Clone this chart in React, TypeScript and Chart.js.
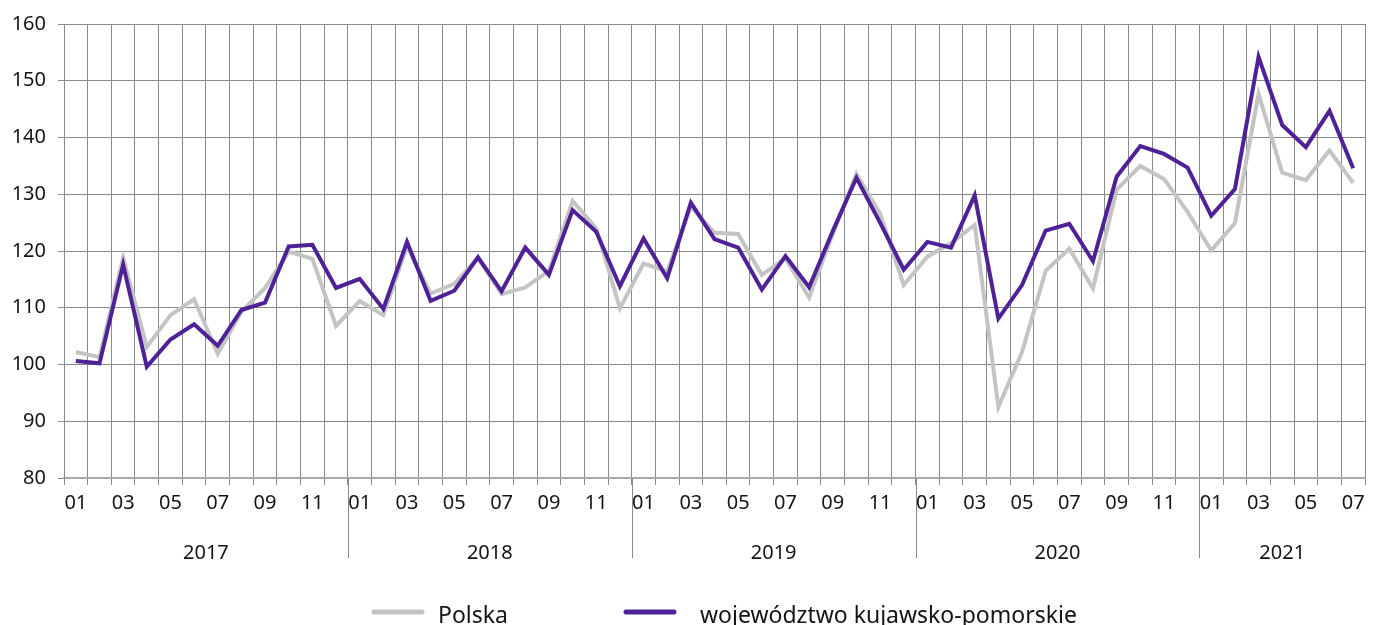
import React, { useEffect, useRef } from "react";
import { Chart, registerables } from "chart.js";

Chart.register(...registerables);

const years = ["2017", "2018", "2019", "2020", "2021"];
const monthsPerYear = [12, 12, 12, 12, 7];
const monthNames = ["01", "02", "03", "04", "05", "06", "07", "08", "09", "10", "11", "12"];

const polska = [
  102.2, 101.3, 118.8, 103.1, 108.7, 111.5, 101.9, 109.3, 113.5, 119.9, 118.6, 106.8,
  111.2, 108.7, 120.8, 112.5, 114.2, 118.8, 112.4, 113.6, 116.5, 128.8, 124.0, 109.9,
  117.8, 116.4, 127.8, 123.2, 123.0, 115.8, 118.7, 111.8, 123.0, 133.6, 126.6, 114.0,
  119.0, 121.4, 124.6, 92.5, 102.2, 116.5, 120.4, 113.4, 130.8, 135.0, 132.7, 126.9,
  120.1, 124.9, 147.7, 133.8, 132.5, 137.7, 132.0,
];

const kujawsko = [
  100.6, 100.2, 117.6, 99.6, 104.4, 107.1, 103.3, 109.6, 110.9, 120.8, 121.1, 113.5,
  115.1, 109.8, 121.6, 111.2, 113.0, 118.9, 112.9, 120.6, 115.8, 127.2, 123.4, 113.8,
  122.2, 115.2, 128.5, 122.1, 120.6, 113.2, 119.1, 113.6, 123.5, 132.9, 125.0, 116.7,
  121.6, 120.6, 129.8, 108.1, 114.0, 123.6, 124.8, 118.2, 133.1, 138.5, 137.1, 134.7,
  126.2, 130.9, 154.2, 142.2, 138.3, 144.7, 134.6,
];

const seriesNames = ["Polska", "województwo kujawsko-pomorskie"];
const seriesColors = ["#c4c4c4", "#4f2196"];

const labels: string[] = [];
years.forEach((y, yi) => {
  for (let m = 0; m < monthsPerYear[yi]; m++) labels.push(monthNames[m]);
});

const FONT = "'Noto Sans', sans-serif";
const TEXT = "#141414";
const GRID = "#8a8a8a";

const yearPlugin = {
  id: "yearPlugin",
  afterDraw(chart: any) {
    const ctx = chart.ctx;
    const xs = chart.scales.x;
    const area = chart.chartArea;
    ctx.save();
    ctx.font = `20px ${FONT}`;
    ctx.fillStyle = TEXT;
    ctx.textAlign = "center";
    ctx.textBaseline = "middle";
    let start = 0;
    years.forEach((y, yi) => {
      const end = start + monthsPerYear[yi] - 1;
      const cx = (xs.getPixelForValue(start) + xs.getPixelForValue(end)) / 2;
      ctx.fillText(y, cx, 553);
      if (yi < years.length - 1) {
        const bx = Math.round((xs.getPixelForValue(end) + xs.getPixelForValue(end + 1)) / 2) + 0.5;
        ctx.strokeStyle = GRID;
        ctx.lineWidth = 1;
        ctx.beginPath();
        ctx.moveTo(bx, area.bottom);
        ctx.lineTo(bx, 558);
        ctx.stroke();
      }
      start = end + 1;
    });

    // legend
    const items = [
      { x: 372, label: chart.data.datasets[0].label, color: chart.data.datasets[0].borderColor, gap: 14 },
      { x: 624, label: chart.data.datasets[1].label, color: chart.data.datasets[1].borderColor, gap: 24 },
    ];
    ctx.font = `23px ${FONT}`;
    items.forEach((it) => {
      ctx.strokeStyle = it.color;
      ctx.lineWidth = 5;
      ctx.lineCap = "round";
      ctx.beginPath();
      ctx.moveTo(it.x + 2, 612);
      ctx.lineTo(it.x + 50, 612);
      ctx.stroke();
      ctx.textAlign = "left";
      ctx.textBaseline = "alphabetic";
      ctx.fillStyle = TEXT;
      ctx.fillText(it.label, it.x + 52 + it.gap, 623);
    });
    ctx.restore();
  },
};

export default function App() {
  const ref = useRef<HTMLCanvasElement | null>(null);
  useEffect(() => {
    if (!ref.current) return;
    const chart = new Chart(ref.current, {
      type: "line",
      data: {
        labels,
        datasets: [
          {
            label: seriesNames[0],
            data: polska,
            borderColor: seriesColors[0],
            backgroundColor: seriesColors[0],
            borderWidth: 4,
            pointRadius: 0,
            tension: 0,
            order: 1,
          },
          {
            label: seriesNames[1],
            data: kujawsko,
            borderColor: seriesColors[1],
            backgroundColor: seriesColors[1],
            borderWidth: 4,
            pointRadius: 0,
            tension: 0,
            order: 0,
          },
        ],
      },
      options: {
        responsive: false,
        animation: false,
        layout: { padding: { top: 23, right: 13, left: 0, bottom: 0 } },
        plugins: {
          legend: { display: false },
          tooltip: { enabled: false },
        },
        scales: {
          x: {
            type: "category",
            offset: true,
            grid: { offset: true, color: GRID, lineWidth: 1, tickLength: 7, tickColor: GRID },
            border: { color: "#aaaaaa", width: 2 },
            ticks: {
              autoSkip: false,
              maxRotation: 0,
              minRotation: 0,
              padding: 6,
              color: TEXT,
              font: { family: FONT, size: 20 },
              callback: (v: any, i: number) => (parseInt(labels[i], 10) % 2 === 1 ? labels[i] : ""),
            },
            afterFit: (s: any) => {
              s.height = 147;
            },
          },
          y: {
            min: 80,
            max: 160,
            grid: { color: GRID, lineWidth: 1, tickLength: 6, tickColor: GRID },
            border: { color: GRID, width: 1 },
            ticks: {
              stepSize: 10,
              padding: 12,
              color: TEXT,
              font: { family: FONT, size: 20 },
            },
            afterFit: (s: any) => {
              s.width = 64;
            },
          },
        },
      },
      plugins: [yearPlugin],
    });
    return () => chart.destroy();
  }, []);
  return (
    <div style={{ position: "absolute", left: 0, top: 0, width: 1378, height: 625 }}>
      <canvas ref={ref} width={1378} height={625} style={{ display: "block" }} />
    </div>
  );
}
